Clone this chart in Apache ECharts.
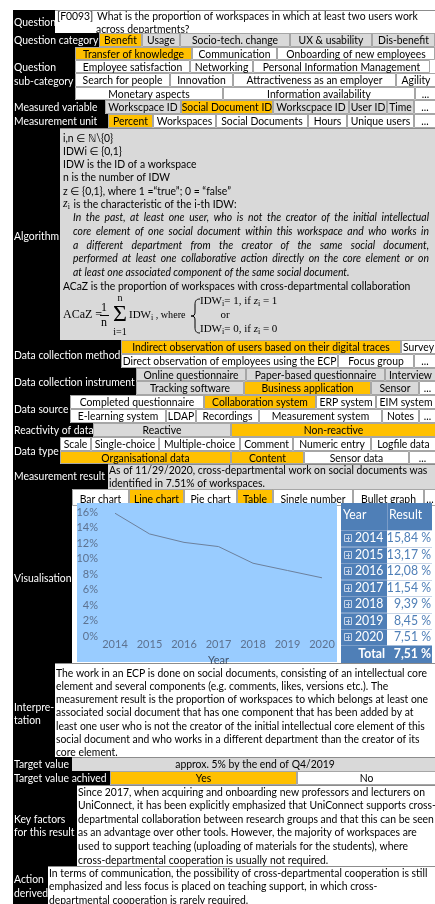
<!DOCTYPE html>
<html><head><meta charset="utf-8">
<script src="https://cdn.jsdelivr.net/npm/echarts@6.0.0/dist/echarts.min.js"></script>
<style>html,body{margin:0;padding:0;background:#fff}#c{width:435px;height:904px}</style>
</head><body><div id="c"></div>
<script>
// ---------------- DATA ----------------
const years = ['2014','2015','2016','2017','2018','2019','2020'];
const results = [15.84, 13.17, 12.08, 11.54, 9.39, 8.45, 7.51];
const totalResult = 7.51;
const yTicks = [0, 2, 4, 6, 8, 10, 12, 14, 16];
const xAxisName = 'Year';
const tableHeader = ['Year', 'Result'];
const totalLabel = 'Total';

const questionId = '[F0093]';
const questionText = ['What is the proportion of workspaces in which at least two users work', 'across departments?'];
const questionCategories = ['Benefit','Usage','Socio-tech. change','UX & usability','Dis-benefit'];
const subCategories = [
  ['Transfer of knowledge','Communication','Onboarding of new employees'],
  ['Employee satisfaction','Networking','Personal Information Management'],
  ['Search for people','Innovation','Attractiveness as an employer','Agility'],
  ['Monetary aspects','Information availability','...']
];
const measuredVariables = ['Workscpace ID','Social Document ID','Workscpace ID','User ID','Time','...'];
const measurementUnits = ['Percent','Workspaces','Social Documents','Hours','Unique users','...'];
const algorithmDefs = ['i,n ∈ ℕ\\{0}','IDWi ∈ {0,1}','IDW is the ID of a workspace','n is the number of IDW','z ∈ {0,1}, where 1 =“true”; 0 = “false”'];
const algorithmZi = ' is the characteristic of the i-th IDW:';
const algorithmItalic = [
  'In the past, at least one user, who is not the creator of the initial intellectual',
  'core element of one social document within this workspace and who works in',
  'a different department from the creator of the same social document,',
  'performed at least one collaborative action directly on the core element or on',
  'at least one associated component of the same social document.'
];
const algorithmProportion = 'ACaZ is the proportion of workspaces with cross-departmental collaboration';
const collectionMethods = [
  ['Indirect observation of users based on their digital traces','Survey'],
  ['Direct observation of employees using the ECP','Focus group','...']
];
const collectionInstruments = [
  ['Online questionnaire','Paper-based questionnaire','Interview'],
  ['Tracking software','Business application','Sensor','...']
];
const dataSources = [
  ['Completed questionnaire','Collaboration system','ERP system','EIM system'],
  ['E-learning system','LDAP','Recordings','Measurement system','Notes','...']
];
const reactivity = ['Reactive','Non-reactive'];
const dataTypes = [
  ['Scale','Single-choice','Multiple-choice','Comment','Numeric entry','Logfile data'],
  ['Organisational data','Content','Sensor data','...']
];
const measurementResult = ['As of 11/29/2020, cross-departmental work on social documents was','identified in 7.51% of workspaces.'];
const chartTypes = ['Bar chart','Line chart','Pie chart','Table','Single number','Bullet graph','...'];
const interpretation = [
  'The work in an ECP is done on social documents, consisting of an intellectual core',
  'element and several components (e.g. comments, likes, versions etc.). The',
  'measurement result is the proportion of workspaces to which belongs at least one',
  'associated social document that has one component that has been added by at',
  'least one user who is not the creator of the initial intellectual core element of this',
  'social document and who works in a different department than the creator of its',
  'core element.'
];
const targetValue = 'approx. 5% by the end of Q4/2019';
const targetAchieved = ['Yes','No'];
const keyFactors = [
  'Since 2017, when acquiring and onboarding new professors and lecturers on',
  'UniConnect, it has been explicitly emphasized that UniConnect supports cross-',
  'departmental collaboration between research groups and that this can be seen',
  'as an advantage over other tools. However, the majority of workspaces are',
  'used to support teaching (uploading of materials for the students), where',
  'cross-departmental cooperation is usually not required.'
];
const actionDerived = [
  'In terms of communication, the possibility of cross-departmental cooperation is still',
  'emphasized and less focus is placed on teaching support, in which cross-',
  'departmental cooperation is rarely required.'
];
const rowLabels = {
  q:['Question'], qc:['Question category'], qs:['Question','sub-category'], mv:['Measured variable'],
  mu:['Measurement unit'], al:['Algorithm'], dm:['Data collection method'], di:['Data collection instrument'],
  ds:['Data source'], rd:['Reactivity of data'], dt:['Data type'], mr:['Measurement result'],
  vi:['Visualisation'], ip:['Interpre-','tation'], tv:['Target value'], ta:['Target value achived'],
  kf:['Key factors','for this result'], ad:['Action','derived']
};

// ---------------- STYLE / LAYOUT ----------------
const ORANGE = '#ffc000', GRAY = '#d9d9d9', WHITE = '#ffffff';
const FILL = {o:ORANGE, g:GRAY, w:WHITE};
const SANS = 'Lato, "DejaVu Sans", sans-serif';
const SERIF = '"Liberation Serif", "DejaVu Serif", serif';
const F = '11px ' + SANS;
const FI = 'italic 11px ' + SANS;
const cv = document.createElement('canvas').getContext('2d');
function mw(s, font){ cv.font = font; return cv.measureText(s).width; }
const S = 371 / mw(interpretation[0], F);

const els = [];
let Z = 1;
function R(x0,y0,x1,y1,fill,stroke){
  els.push({type:'rect', z:Z++, silent:true, shape:{x:x0,y:y0,width:x1-x0,height:y1-y0},
    style:{fill:fill||'none', stroke:stroke||null, lineWidth:1}});
}
function L(x1,y1,x2,y2,stroke){
  els.push({type:'line', z:Z++, silent:true, shape:{x1,y1,x2,y2}, style:{stroke, lineWidth:1}});
}
function B(x1,y1,cpx1,cpy1,cpx2,cpy2,x2,y2){
  els.push({type:'bezierCurve', z:Z++, silent:true, shape:{x1,y1,cpx1,cpy1,cpx2,cpy2,x2,y2}, style:{fill:'none',stroke:'#000',lineWidth:1}});
}
function T(x,y,s,o={}){
  const font = o.font || F; const sx = (o.sx != null) ? o.sx : S; const al = o.align || 'left';
  els.push({type:'text', z:Z++, silent:true, x, y, scaleX:sx,
    style:{text:s, font, fill:o.color||'#000', textAlign:al, align:al, textVerticalAlign:'middle', verticalAlign:'middle'}});
  return mw(s, font) * sx;
}
function row(y0,y1,lx,labels,labelYs){
  R(13.5, y0+0.5, 436, y1+0.5, WHITE, '#8c8c8c');
  R(13, y0, lx, y1+1, '#000');
  labels.forEach((s,i)=>T(14, labelYs[i], s, {color:'#fff'}));
}
function cells(y0,y1,edges,labels,fills,dy){
  for(let i=0;i<labels.length;i++){
    R(edges[i]+0.5, y0+0.5, edges[i+1]-0.5, y1-0.5, FILL[fills[i]], '#a6a6a6');
    T((edges[i]+edges[i+1])/2, (y0+y1)/2+0.5+(dy||0), labels[i], {align:'center'});
  }
}
function justify(str,x0,x1,y,font){
  const words = str.split(' ');
  const ws = words.map(w=>mw(w,font)*S);
  const gap = (x1-x0-ws.reduce((a,b)=>a+b,0))/(words.length-1);
  let x = x0;
  words.forEach((w,i)=>{ T(x,y,w,{font}); x += ws[i]+gap; });
}
function seq(x,y,parts){
  parts.forEach(p=>{
    const font = p.font; const dy = p.dy||0; const sx = p.sx!=null?p.sx:1;
    T(x, y+dy, p.t, {font, sx});
    x += mw(p.t,font)*sx;
  });
  return x;
}

// Question
row(10,33,55,rowLabels.q,[22]);
T(57,16,questionId); T(97,16,questionText[0]); T(96,29,questionText[1]);
// Question category
row(33,47,99,rowLabels.qc,[40]);
cells(33,47,[99,142,180,290,372,435],questionCategories,['o','g','g','g','g']);
// Sub-category
row(47,100,75,rowLabels.qs,[67,81]);
cells(47,60,[75,192,277,435],subCategories[0],['o','w','w']);
cells(60,73,[75,190,253,430],subCategories[1],['w','w','w']);
cells(73,87,[75,170,233,396,436],subCategories[2],['w','w','w','w']);
cells(87,100,[75,223,415,436],subCategories[3],['w','w','w']);
// Measured variable
row(100,114,105,rowLabels.mv,[107.5]);
cells(100,114,[105,181,273,349,387,414,436],measuredVariables,['g','o','g','g','g','w']);
// Measurement unit
row(114,128,108,rowLabels.mu,[121.5]);
cells(114,128,[108,153,216,308,347,414,436],measurementUnits,['o','w','w','w','w','w']);
// Algorithm
row(128,340,60,rowLabels.al,[236]);
R(60,129,436,340,GRAY);
const defYs = [138,151,164,177,191];
algorithmDefs.forEach((s,i)=>T(63,defYs[i],s));
{
  let x = seq(63,204,[{t:'z',font:'italic 12px '+SERIF},{t:'i',font:'8px '+SERIF,dy:3}]);
  T(x+1,204,algorithmZi);
}
const itYs = [217,231,245,258,272];
algorithmItalic.forEach((s,i)=>{
  if(i < algorithmItalic.length-1) justify(s,73,429,itYs[i],FI);
  else T(73,itYs[i],s,{font:FI});
});
T(63,286,algorithmProportion);
// formula
{
  const f12 = '12px ' + SERIF, f11 = '11px ' + SERIF, f8 = '8px ' + SERIF, f10 = '10px ' + SERIF, fz = 'italic 11px ' + SERIF;
  T(63,315,'ACaZ =',{font:f12,sx:1});
  T(104,308,'1',{font:f12,sx:1,align:'center'});
  L(100,315.5,109,315.5,'#000');
  T(104,323,'n',{font:f12,sx:1,align:'center'});
  T(120,315,'Σ',{font:'24px '+SERIF,sx:1,align:'center'});
  T(120,298,'n',{font:f10,sx:1,align:'center'});
  T(120,332,'i=1',{font:f10,sx:1,align:'center'});
  seq(129,315,[{t:'IDW',font:f11},{t:'i',font:f8,dy:3},{t:' , where',font:f11, sx:0.92}]);
  B(200,299, 196,299, 195,301, 195,305);
  L(195,305,195,312,'#000');
  B(195,312, 195,315, 194,316, 191,316);
  B(191,316, 194,316, 195,317, 195,320);
  L(195,320,195,327,'#000');
  B(195,327, 195,331, 196,333, 200,333);
  seq(200,301,[{t:'IDW',font:f11},{t:'i',font:f8,dy:3},{t:'= 1, if ',font:f11},{t:'z',font:fz},{t:'i',font:f8,dy:3},{t:' = 1',font:f11}]);
  T(225,315,'or',{font:f11,sx:1,align:'center'});
  seq(200,329,[{t:'IDW',font:f11},{t:'i',font:f8,dy:3},{t:'= 0, if ',font:f11},{t:'z',font:fz},{t:'i',font:f8,dy:3},{t:' = 0',font:f11}]);
}
// Data collection method
row(340,368,121,rowLabels.dm,[355]);
cells(340,354,[121,401,436],collectionMethods[0],['o','w']);
cells(354,368,[121,338,414,436],collectionMethods[1],['w','w','w']);
// Data collection instrument
row(368,395,136,rowLabels.di,[382]);
cells(368,381,[136,246,385,436],collectionInstruments[0],['g','g','g']);
cells(381,395,[136,244,371,419,436],collectionInstruments[1],['g','o','g','w']);
// Data source
row(395,423,70,rowLabels.ds,[409]);
cells(395,409,[70,204,316,376,436],dataSources[0],['w','o','w','w']);
cells(409,423,[70,166,196,259,382,419,436],dataSources[1],['w','w','w','w','w','w']);
// Reactivity
row(423,437,93,rowLabels.rd,[430.5]);
cells(423,437,[93,231,436],reactivity,['g','o']);
// Data type
row(437,464,60,rowLabels.dt,[451]);
cells(437,451,[60,91,159,240,293,371,436],dataTypes[0],['w','w','w','w','w','w']);
cells(451,464,[60,231,304,409,436],dataTypes[1],['o','o','w','w']);
// Measurement result
row(464,489,108,rowLabels.mr,[476.5]);
R(108,465,436,489,GRAY);
T(109,470,measurementResult[0]); T(109,483,measurementResult[1]);
// Visualisation
row(489,663,72,rowLabels.vi,[578]);
cells(489,506,[72,129,184,237,273,353,424,436],chartTypes,['w','o','w','o','w','w','w'],1.5);
R(77,503,337,662,'#99ccff');
// table
const TB = '#4f7fb7';
const fmt = v => v.toFixed(2).replace('.',',') + ' %';
const F13 = '13px ' + SANS;
R(341,503,432,530,TB);
L(387.5,503,387.5,530,'#7a9cc8');
T(343,515,tableHeader[0],{color:'#fff',font:F13});
T(389,515,tableHeader[1],{color:'#fff',font:F13});
const RH = 16.5;
years.forEach((yr,i)=>{
  const y0 = 530 + i*RH, yc = y0 + RH/2;
  R(341,y0,387,y0+RH,TB);
  R(387,y0,432,y0+RH,'#ffffff');
  L(341,Math.round(y0)+0.5,387,Math.round(y0)+0.5,'#7f9fc9');
  L(387,Math.round(y0)+0.5,432,Math.round(y0)+0.5,'#c9d6e8');
  R(344.5,Math.round(yc)-3.5,351.5,Math.round(yc)+3.5,null,'#c6d4e8');
  L(346,Math.round(yc)+0.5,350,Math.round(yc)+0.5,'#c6d4e8');
  L(348.5,Math.round(yc)-2,348.5,Math.round(yc)+3,'#c6d4e8');
  T(355,yc,yr,{color:'#fff',font:F13});
  T(431,yc,fmt(results[i]),{color:TB,font:F13,align:'right'});
});
R(341,645.5,432,663,TB);
T(385,654,totalLabel,{color:'#fff',font:'bold '+F13,align:'right'});
T(431,654,fmt(totalResult),{color:'#fff',font:'bold '+F13,align:'right'});
// Interpretation
row(663,757,55,rowLabels.ip,[707,720]);
interpretation.forEach((s,i)=>T(56,673+i*13.3,s));
// Target value
row(757,771,72,rowLabels.tv,[764.5]);
R(72,758,436,771,GRAY);
T(255,764.5,targetValue,{align:'center'});
// Target achieved
row(771,785,110,rowLabels.ta,[778.5]);
cells(771,785,[110,297,436],targetAchieved,['o','w']);
// Key factors
row(785,866,77,rowLabels.kf,[819,832]);
keyFactors.forEach((s,i)=>T(78,792+i*13.6,s));
// Action derived
row(866,910,48,rowLabels.ad,[879,893]);
actionDerived.forEach((s,i)=>T(49,873+i*13.6,s));

// ---------------- CHART ----------------
const AX = '#5d7290';
const chart = echarts.init(document.getElementById('c'));
chart.setOption({
  animation:false,
  graphic:{elements:els},
  grid:{left:115, top:512, width:207, height:124},
  xAxis:{type:'category', data:years, boundaryGap:false, z:5000,
    axisLine:{show:false}, axisTick:{show:false},
    axisLabel:{color:AX, fontSize:11, fontFamily:'Lato', margin:3},
    name:xAxisName, nameLocation:'middle', nameGap:19,
    nameTextStyle:{color:'#44546a', fontSize:11, fontFamily:'Lato'}},
  yAxis:{type:'value', min:yTicks[0], max:yTicks[yTicks.length-1], interval:yTicks[1]-yTicks[0], z:5000,
    axisLine:{show:false}, axisTick:{show:false}, splitLine:{show:false},
    axisLabel:{formatter:'{value}%', color:AX, fontSize:11, fontFamily:'Lato', margin:17}},
  series:[{type:'line', data:results, symbol:'none', silent:true, z:5000,
    lineStyle:{color:'#6c809c', width:1}}]
});
</script></body></html>
